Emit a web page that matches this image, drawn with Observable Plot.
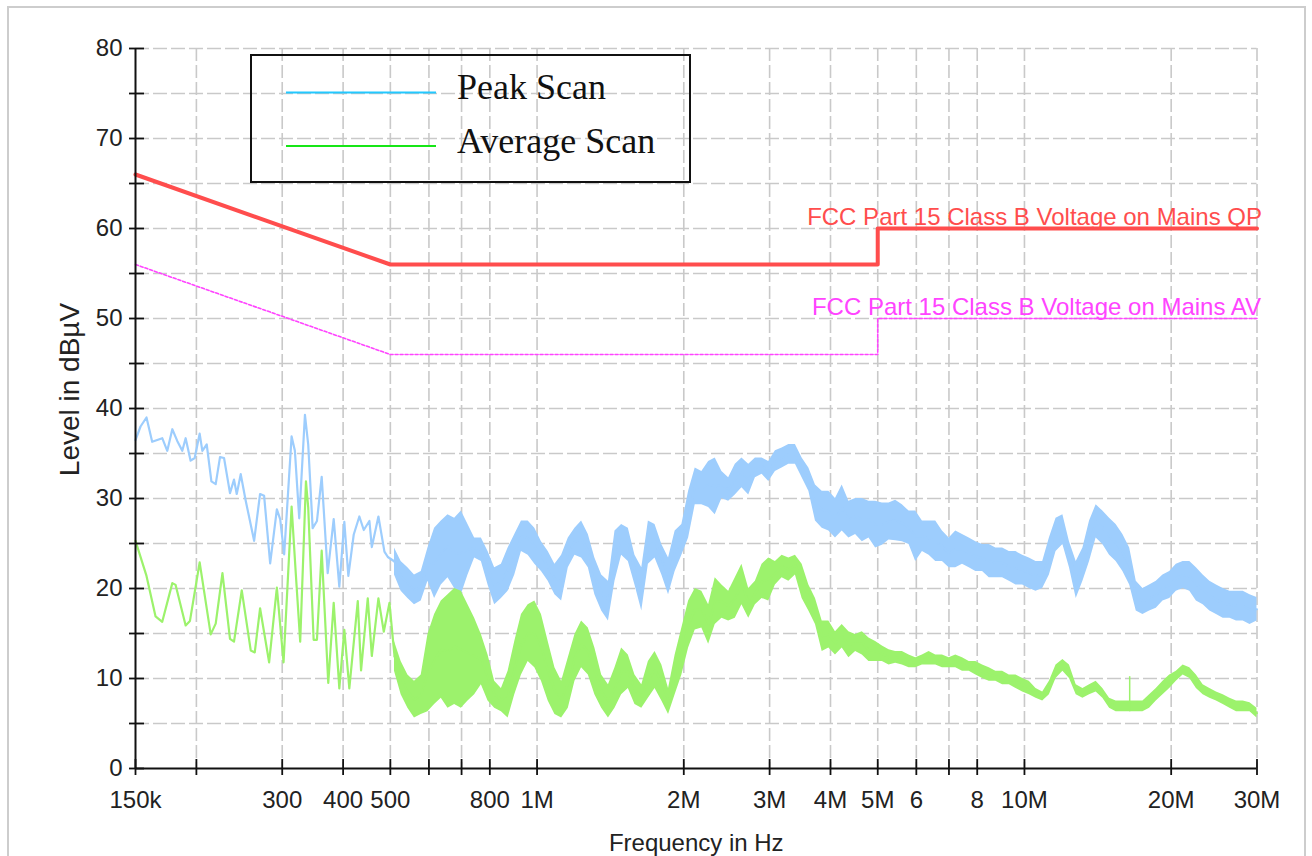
<!DOCTYPE html>
<html>
<head>
<meta charset="utf-8">
<script src="https://cdn.jsdelivr.net/npm/d3@7"></script>
<script src="https://cdn.jsdelivr.net/npm/@observablehq/plot@0.6"></script>
<style>
  body { margin: 0; background: #fff; }
  #wrap { position: relative; width: 1312px; height: 856px; overflow: hidden; }
  #wrap > svg { position: absolute; left: 0; top: 0; }
  #border { position: absolute; left: 7px; top: 6px; width: 1299px; height: 900px;
            border: 2px solid #cdcdcd; pointer-events: none; box-sizing: border-box; }
</style>
</head>
<body>
<div id="wrap"><div id="border"></div></div>
<script>
// ---- Axis ticks (frequency in kHz, level in dBµV) ----
const xTicks = [150, 200, 300, 400, 500, 600, 700, 800, 1000, 2000, 3000, 4000, 5000, 6000, 7000, 8000, 10000, 20000, 30000];
const xLabelValues = [150, 300, 400, 500, 800, 1000, 2000, 3000, 4000, 5000, 6000, 8000, 10000, 20000, 30000];
const xLabelTexts = ["150k", "300", "400", "500", "800", "1M", "2M", "3M", "4M", "5M", "6", "8", "10M", "20M", "30M"];
const yMajor = [0, 10, 20, 30, 40, 50, 60, 70, 80];
const yAllTicks = [0, 5, 10, 15, 20, 25, 30, 35, 40, 45, 50, 55, 60, 65, 70, 75, 80];

// ---- Limit lines ----
const limitFreq = [150, 500, 5000, 5000, 30000];
const qpLevel = [66, 56, 56, 60, 60];
const avLevel = [56, 46, 46, 50, 50];
const qpLabel = "FCC Part 15 Class B Voltage on Mains QP";
const avLabel = "FCC Part 15 Class B Voltage on Mains AV";

// ---- Peak scan, low-frequency part (individual peaks) ----
const peakLineFreq = [150, 153.6, 158.0, 162.3, 170.2, 174.3, 178.5, 182.7, 187.1, 190.1,
  194.6, 198.4, 203.1, 205.7, 210.0, 214.7, 219.1, 223.6, 227.9, 234.4,
  238.9, 242.0, 246.6, 252.6, 262.7, 270.2, 275.4, 283.4, 292.5, 297.1,
  302.8, 313.6, 318.5, 325.1, 334.0, 339.2, 346.4, 353.5, 361.5, 371.9,
  382.6, 392.9, 402.3, 410.0, 420.6, 431.9, 441.0, 452.9, 458.1, 472.6,
  486.2, 494.1, 509.9];
const peakLineLevel = [36.5, 38.0, 39.0, 36.3, 36.7, 35.3, 37.7, 36.4, 35.3, 36.7,
  34.2, 34.5, 37.2, 35.3, 36.0, 31.9, 31.6, 34.6, 34.5, 30.6,
  32.1, 30.5, 32.7, 29.7, 25.3, 30.5, 30.3, 22.8, 28.8, 27.7,
  23.8, 36.9, 35.3, 27.8, 39.3, 36.0, 26.7, 27.5, 32.4, 21.7,
  27.7, 20.2, 27.4, 21.4, 26.0, 28.0, 26.5, 27.5, 24.6, 28.0,
  24.1, 23.5, 23.0];

// ---- Average scan, low-frequency part ----
const avgLineFreq = [150, 158.0, 164.9, 170.2, 178.5, 181.3, 190.1, 194.0, 203.1, 214.0,
  219.1, 226.2, 234.4, 238.9, 247.8, 258.6, 263.5, 270.2, 282.0, 292.5,
  301.9, 313.6, 320.0, 326.6, 335.6, 339.2, 348.0, 353.5, 361.5, 372.9,
  382.6, 392.9, 402.3, 411.9, 428.7, 435.4, 449.4, 458.1, 472.6, 484.7,
  497.9, 509.9];
const avgLineLevel = [25.3, 21.4, 16.9, 16.3, 20.6, 20.4, 15.9, 16.4, 22.9, 14.9,
  16.1, 21.7, 14.4, 14.1, 19.8, 13.1, 12.9, 17.8, 11.8, 20.1,
  11.8, 29.1, 21.5, 14.1, 31.9, 29.0, 14.3, 14.3, 24.2, 9.5,
  18.4, 8.9, 15.4, 8.9, 18.6, 10.9, 18.9, 12.5, 18.9, 15.2,
  18.4, 12.5];

// ---- Dense part of both scans: min / max envelope per frequency ----
const bandFreq = [509.9, 526.2, 543.2, 560.4, 578.5, 597.2, 616.2, 636.0, 656.5, 677.4,
  699.2, 721.6, 744.6, 768.6, 793.3, 818.5, 845.0, 872.1, 900.0, 928.9,
  958.8, 989.4, 1021, 1054, 1088, 1123, 1159, 1196, 1234, 1274,
  1314, 1357, 1401, 1445, 1491, 1539, 1588, 1640, 1692, 1746,
  1803, 1861, 1920, 1982, 2046, 2111, 2178, 2249, 2320, 2395,
  2472, 2551, 2632, 2718, 2805, 2895, 2988, 3083, 3182, 3285,
  3389, 3498, 3611, 3726, 3846, 3969, 4095, 4227, 4363, 4503,
  4648, 4797, 4950, 5110, 5274, 5441, 5616, 5798, 5982, 6175,
  6373, 6576, 6788, 7006, 7229, 7462, 7703, 7948, 8204, 8467,
  8736, 9018, 9310, 9606, 9914, 10230, 10560, 10900, 11250, 11610,
  11990, 12370, 12770, 13180, 13600, 14030, 14480, 14950, 15420, 15920,
  16440, 16960, 17500, 18060, 18640, 19240, 19860, 20490, 21160, 21840,
  22530, 23260, 24010, 24770, 25570, 26400, 27230, 28110, 29020, 30000];

const peakLow = [21.5, 19.7, 18.9, 18.2, 18.6, 20.8, 18.9, 20.4, 21.2, 20.0,
  19.3, 21.5, 23.4, 23.0, 20.4, 18.2, 18.9, 19.7, 21.5, 24.1,
  23.7, 22.7, 21.9, 20.8, 19.3, 18.6, 22.3, 23.7, 23.4, 22.3,
  19.3, 17.5, 16.4, 20.8, 23.7, 23.0, 20.4, 17.5, 22.7, 23.4,
  21.5, 19.3, 21.9, 23.7, 25.6, 29.3, 29.3, 29.0, 28.2, 30.0,
  29.7, 30.4, 31.2, 30.4, 32.3, 32.7, 31.9, 33.0, 33.4, 33.8,
  33.8, 32.3, 30.8, 27.5, 26.7, 26.4, 25.6, 26.4, 25.6, 26.0,
  25.2, 25.6, 24.5, 24.8, 25.4, 25.3, 25.2, 24.9, 23.0, 24.1,
  23.7, 23.0, 23.0, 22.3, 22.3, 22.7, 22.3, 21.9, 21.9, 21.2,
  21.2, 21.2, 20.8, 20.4, 20.4, 20.0, 19.7, 20.0, 21.5, 24.1,
  24.9, 22.3, 18.9, 20.8, 23.0, 25.6, 24.9, 23.7, 23.0, 21.9,
  20.4, 17.5, 17.1, 17.5, 17.8, 18.6, 18.9, 19.7, 20.0, 19.7,
  18.6, 18.2, 17.5, 17.1, 16.7, 16.7, 16.4, 16.4, 16.0, 16.4];
const peakHigh = [24.5, 23.0, 22.3, 21.5, 21.9, 24.5, 26.7, 27.5, 28.2, 27.8,
  28.6, 27.1, 25.6, 25.6, 24.1, 22.3, 22.7, 24.5, 26.0, 27.5,
  27.5, 26.7, 25.2, 24.1, 22.7, 23.7, 25.6, 26.7, 27.5, 26.0,
  23.4, 21.5, 20.8, 26.4, 27.1, 26.7, 23.7, 22.3, 27.5, 27.1,
  24.9, 23.4, 26.4, 27.1, 30.8, 33.4, 33.0, 34.1, 34.5, 33.0,
  32.3, 33.8, 34.5, 33.8, 34.5, 34.5, 34.1, 35.3, 35.6, 36.0,
  36.0, 34.5, 33.4, 31.5, 30.8, 30.8, 30.0, 31.5, 29.7, 30.0,
  30.0, 29.7, 29.7, 29.5, 29.5, 29.8, 29.3, 28.6, 28.6, 27.5,
  27.5, 27.5, 26.4, 25.6, 26.4, 26.0, 25.6, 25.2, 24.9, 24.9,
  24.5, 24.5, 24.1, 24.1, 23.7, 23.4, 23.0, 23.0, 25.6, 27.8,
  28.2, 25.2, 23.0, 24.5, 27.5, 29.3, 28.6, 27.8, 27.1, 26.0,
  24.5, 20.8, 20.0, 20.4, 20.8, 21.5, 21.9, 22.7, 23.0, 23.0,
  22.3, 21.5, 20.8, 20.4, 20.0, 19.7, 19.7, 19.7, 19.3, 19.0];

const avgLow = [10.8, 8.2, 6.7, 5.6, 6.0, 6.3, 7.1, 7.8, 6.7, 7.1,
  6.7, 7.5, 8.2, 9.3, 7.5, 6.7, 6.3, 5.6, 8.2, 10.4,
  11.9, 11.2, 9.7, 7.5, 6.0, 5.6, 6.7, 9.7, 11.2, 10.4,
  8.2, 6.7, 5.6, 6.7, 8.2, 8.9, 7.1, 6.7, 7.8, 8.9,
  7.5, 6.0, 8.2, 10.4, 13.4, 15.4, 15.6, 13.8, 16.0, 16.7,
  16.4, 16.7, 18.2, 16.7, 18.2, 18.9, 18.6, 20.4, 21.2, 20.8,
  21.5, 18.9, 17.5, 16.0, 13.0, 13.4, 12.6, 13.4, 12.3, 13.0,
  12.6, 11.9, 11.9, 11.9, 11.5, 11.7, 11.5, 11.2, 11.2, 11.5,
  11.5, 11.5, 11.2, 11.2, 11.2, 10.8, 10.8, 10.4, 10.0, 9.7,
  9.7, 9.3, 9.3, 8.9, 8.5, 8.2, 7.8, 7.5, 8.2, 10.0,
  10.8, 10.0, 8.2, 7.8, 8.2, 8.5, 7.8, 6.7, 6.3, 6.3,
  6.3, 6.3, 6.3, 6.7, 7.5, 8.2, 8.9, 9.7, 10.4, 10.0,
  8.9, 8.2, 7.8, 7.5, 7.1, 6.7, 6.3, 6.3, 6.3, 5.6];
const avgHigh = [14.1, 11.9, 10.4, 9.7, 10.4, 14.9, 17.1, 18.6, 19.3, 20.0,
  19.7, 18.2, 16.7, 14.9, 12.6, 9.7, 8.9, 10.8, 14.1, 17.1,
  18.2, 18.6, 17.1, 14.1, 11.2, 9.7, 12.3, 14.9, 16.4, 15.6,
  13.4, 10.4, 9.3, 11.2, 13.4, 12.6, 10.4, 9.3, 11.9, 13.0,
  11.5, 8.9, 12.6, 15.6, 18.6, 20.0, 19.7, 18.2, 21.2, 20.4,
  19.7, 21.2, 22.7, 20.0, 20.8, 22.7, 23.4, 23.0, 23.7, 23.4,
  23.7, 22.7, 20.4, 18.9, 16.4, 16.4, 15.2, 16.0, 15.2, 14.9,
  15.2, 14.5, 14.1, 13.6, 13.2, 13.0, 13.0, 12.6, 12.3, 12.6,
  13.0, 12.6, 12.6, 12.3, 12.6, 12.3, 11.9, 11.9, 11.5, 11.2,
  10.8, 10.8, 10.4, 10.4, 10.0, 9.7, 8.9, 8.5, 9.7, 11.5,
  12.1, 11.5, 9.3, 8.9, 9.3, 9.7, 8.9, 7.8, 7.5, 7.5,
  7.5, 7.5, 7.5, 8.2, 8.9, 9.7, 10.4, 10.8, 11.5, 11.2,
  10.4, 9.3, 8.9, 8.5, 8.2, 7.8, 7.5, 7.5, 7.3, 6.7];

// single narrow spike in the average scan
const avgSpikeFreq = [16440];
const avgSpikeLow = [6.3];
const avgSpikeHigh = [10.2];

// ---- Colours ----
const peakColor = "#9dcdfd";
const avgColor = "#9cf26c";
const qpColor = "#ff4d4d";
const avColor = "#ff44ff";
const gridColor = "#c9c9c9";

// ---- Tables built from the arrays ----
const peakLine = peakLineFreq.map((f, i) => ({f, v: peakLineLevel[i]}));
const avgLine = avgLineFreq.map((f, i) => ({f, v: avgLineLevel[i]}));
const peakBand = bandFreq.map((f, i) => ({f, lo: peakLow[i], hi: peakHigh[i]}));
const avgBand = bandFreq.map((f, i) => ({f, lo: avgLow[i], hi: avgHigh[i]}));
const avgSpike = avgSpikeFreq.map((f, i) => ({f, lo: avgSpikeLow[i], hi: avgSpikeHigh[i]}));
const qp = limitFreq.map((f, i) => ({f, v: qpLevel[i]}));
const av = limitFreq.map((f, i) => ({f, v: avLevel[i]}));
const xLabels = xLabelValues.map((f, i) => ({f, text: xLabelTexts[i]}));

const xDomain = [xTicks[0], xTicks[xTicks.length - 1]];
const yDomain = [yMajor[0], yMajor[yMajor.length - 1]];

const chart = Plot.plot({
  width: 1312,
  height: 856,
  marginLeft: 135,
  marginRight: 55.5,
  marginTop: 48,
  marginBottom: 88,
  style: {fontFamily: "Arial, 'Liberation Sans', sans-serif", fontSize: "24px", color: "#222", background: "transparent"},
  x: {type: "log", domain: xDomain, axis: null},
  y: {domain: yDomain, axis: null},
  marks: [
    // dashed grid
    Plot.ruleY(yAllTicks.slice(1), {stroke: gridColor, strokeWidth: 1.6, strokeDasharray: "14,4"}),
    Plot.ruleX(xTicks.slice(1), {stroke: gridColor, strokeWidth: 1.6, strokeDasharray: "13,4"}),

    // peak scan
    Plot.areaY(peakBand, {x: "f", y1: "lo", y2: "hi", fill: peakColor}),
    Plot.line(peakBand, {x: "f", y: (d) => (d.lo + d.hi) / 2, stroke: peakColor, strokeWidth: 2}),
    Plot.line(peakLine, {x: "f", y: "v", stroke: peakColor, strokeWidth: 2.2}),

    // average scan
    Plot.areaY(avgBand, {x: "f", y1: "lo", y2: "hi", fill: avgColor}),
    Plot.line(avgBand, {x: "f", y: (d) => (d.lo + d.hi) / 2, stroke: avgColor, strokeWidth: 2}),
    Plot.line(avgLine, {x: "f", y: "v", stroke: avgColor, strokeWidth: 2.2}),
    Plot.ruleX(avgSpike, {x: "f", y1: "lo", y2: "hi", stroke: avgColor, strokeWidth: 1.5}),

    // limit lines
    Plot.line(qp, {x: "f", y: "v", stroke: qpColor, strokeWidth: 4}),
    Plot.line(av, {x: "f", y: "v", stroke: avColor, strokeWidth: 1.6, strokeDasharray: "3,2"}),
    Plot.text([qpLabel], {x: limitFreq[limitFreq.length - 1], y: qpLevel[qpLevel.length - 1], textAnchor: "end", lineAnchor: "bottom", dx: 5, dy: -4, fill: qpColor, fontSize: 24}),
    Plot.text([avLabel], {x: limitFreq[limitFreq.length - 1], y: avLevel[avLevel.length - 1], textAnchor: "end", lineAnchor: "bottom", dx: 4, dy: -4, fill: avColor, fontSize: 24}),

    // axis lines and crossing ticks
    Plot.ruleY([yDomain[0]], {stroke: "#111", strokeWidth: 2}),
    Plot.ruleX([xDomain[0]], {stroke: "#111", strokeWidth: 2}),
    Plot.ruleX(xTicks, {x: (d) => d, y1: () => yDomain[0], y2: () => yDomain[0], insetTop: -9, insetBottom: -7, stroke: "#111", strokeWidth: 1.8}),
    Plot.ruleY(yAllTicks, {y: (d) => d, x1: () => xDomain[0], x2: () => xDomain[0], insetLeft: -6, insetRight: -9, stroke: "#111", strokeWidth: 1.8}),

    // tick labels
    Plot.text(xLabels, {x: "f", text: "text", frameAnchor: "bottom", lineAnchor: "top", dy: 22, textAnchor: "middle", fontSize: 24, fill: "#222"}),
    Plot.text(yMajor, {y: (d) => d, text: (d) => String(d), frameAnchor: "left", textAnchor: "end", lineAnchor: "middle", dx: -13, fontSize: 24, fill: "#222"}),

    // axis titles
    Plot.text(["Frequency in Hz"], {frameAnchor: "bottom", textAnchor: "middle", lineAnchor: "bottom", dy: 82, fontSize: 24, fill: "#222"}),
    Plot.text(["Level in dBµV"], {frameAnchor: "left", textAnchor: "middle", lineAnchor: "middle", rotate: -90, dx: -65, dy: -19, fontSize: 28, fill: "#222"})
  ]
});

const wrap = document.getElementById("wrap");
wrap.insertBefore(chart, wrap.firstChild);

// legend box drawn over the plot area
const legend = d3.select(wrap).append("svg")
  .attr("width", 1312).attr("height", 856)
  .style("position", "absolute").style("left", "0px").style("top", "0px")
  .style("pointer-events", "none");
legend.append("rect").attr("x", 251).attr("y", 55).attr("width", 439).attr("height", 127)
  .attr("fill", "none").attr("stroke", "#111").attr("stroke-width", 2);
const entries = [
  {name: "Peak Scan", color: "#22c8ff", y: 92.5},
  {name: "Average Scan", color: "#16e616", y: 146}
];
entries.forEach((e) => {
  legend.append("line").attr("x1", 286).attr("x2", 436).attr("y1", e.y).attr("y2", e.y)
    .attr("stroke", e.color).attr("stroke-width", 2);
  legend.append("text").attr("x", 457).attr("y", e.y + 6.5).text(e.name)
    .attr("font-family", "'Liberation Serif', 'Times New Roman', serif")
    .attr("font-size", 36).attr("fill", "#111");
});
</script>
</body>
</html>
